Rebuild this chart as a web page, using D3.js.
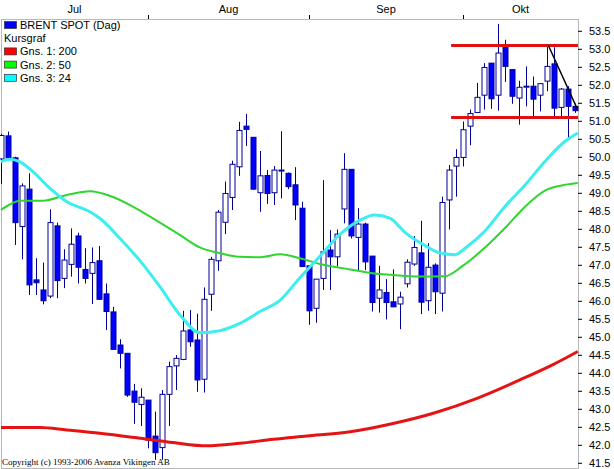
<!DOCTYPE html>
<html>
<head>
<meta charset="utf-8">
<script src="https://cdn.jsdelivr.net/npm/d3@7"></script>
<style>
  body { margin: 0; background: #fff; }
  text { font-family: "Liberation Sans", Arial, sans-serif; }
</style>
</head>
<body>
<svg id="chart" width="614" height="469"></svg>
<script>
// daily candles, Jul -> Okt
const opens  = [49.9,50.54,49.93,48.02,49.06,46.54,46.26,46.09,48.04,46.58,46.97,47.76,46.83,46.72,47.07,46.15,45.65,44.73,44.5,43.45,43.08,43.2,42.2,41.88,43.36,44.15,44.33,45.15,44.87,43.78,46.14,47.07,48.14,48.83,49.68,50.81,50.5,48.96,49.44,48.96,49.59,49.5,49.18,48.53,46.93,45.75,46.58,47.37,47.18,48.51,49.61,47.72,48.09,47.2,46.03,46.19,45.93,45.87,46.43,46.98,47.29,45.96,46.95,46.17,48.76,49.7,49.94,50.81,51.19,51.67,52.56,51.67,53.0,52.38,51.59,51.92,51.92,51.67,52.06,52.54,51.33,51.84,51.36];
const highs  = [50.6,50.66,49.96,49.22,49.5,47.14,47.02,48.5,48.13,47.39,47.97,47.85,47.42,47.44,47.48,46.44,45.79,44.89,44.5,43.65,43.53,43.2,42.88,43.48,44.27,44.45,45.68,45.7,45.6,46.33,47.18,48.48,49.27,49.85,50.93,51.15,50.5,50.12,49.59,49.7,50.67,49.52,49.67,48.71,46.93,46.56,49.31,47.92,47.94,50.06,49.61,48.53,48.13,47.2,46.93,46.56,46.83,46.21,47.11,47.76,48.18,47.56,47.0,48.85,49.73,50.17,50.94,51.27,52.01,52.56,52.56,53.65,53.21,52.38,52.07,52.47,52.19,52.01,53.06,53.0,51.87,51.92,51.44];
const lows   = [49.2,49.93,47.51,47.11,46.12,46.12,45.86,46.03,46.03,46.31,46.63,46.44,46.44,45.87,45.98,45.15,44.61,44.08,43.29,42.54,42.48,41.86,41.54,41.54,42.48,43.48,44.31,44.68,43.43,43.41,45.68,46.79,47.81,48.48,49.43,50.26,49.04,48.43,48.65,48.62,48.8,49.06,48.2,46.91,45.29,45.35,46.26,46.26,46.91,48.11,47.69,46.81,46.81,45.66,45.63,45.44,45.79,45.17,46.33,46.93,45.59,45.68,45.59,45.66,47.94,48.85,49.69,50.28,51.18,51.27,51.29,51.24,52.04,51.43,50.85,51.36,51.08,51.22,51.78,51.08,51.08,50.43,51.18];
const closes = [50.55,49.93,48.13,49.15,46.4,46.46,45.96,48.13,46.52,47.09,47.53,46.89,46.58,47.02,46.0,45.66,44.61,44.5,43.34,43.14,43.28,42.09,41.74,43.36,44.13,44.36,45.12,44.82,43.76,46.0,47.11,48.42,48.94,49.75,50.69,50.72,49.06,49.43,48.94,49.59,49.59,49.13,48.62,46.91,45.68,46.56,47.32,47.18,47.81,49.61,47.76,48.09,47.04,45.91,46.26,45.91,45.79,46.06,47.03,47.44,45.92,46.89,46.21,48.69,49.59,49.94,50.71,51.16,51.61,52.44,51.57,52.84,52.47,51.64,51.89,51.92,51.56,51.99,52.47,51.31,51.84,51.36,51.24];

// moving averages: [candle index, value]
const ma200 = [[0,42.44],[5.6,42.44],[9.4,42.37],[14.1,42.28],[19.9,42.14],[24.6,42.02],[29.4,41.93],[34.1,42.0],[38.9,42.11],[43.7,42.2],[49.9,42.32],[56,42.55],[62,42.85],[68,43.25],[74,43.75],[79,44.2],[82.4,44.55]];
const ma50 = [[0,48.48],[1.3,48.64],[2.7,48.74],[6,48.74],[9.4,48.9],[12.7,49.0],[15.6,48.87],[18.9,48.57],[22.7,48.13],[25.6,47.78],[28.4,47.44],[31.3,47.28],[34.1,47.18],[37,47.17],[39.9,47.25],[42.7,47.14],[45.6,46.98],[49.9,46.83],[54.1,46.7],[57,46.66],[59.9,46.63],[63.4,46.64],[65.9,46.92],[69.1,47.43],[72,47.98],[74.9,48.58],[77.7,49.02],[80.6,49.18],[82.4,49.23]];
const ma24 = [[0,49.82],[1.3,49.89],[2.7,49.82],[4.6,49.54],[7,49.08],[9.4,48.71],[12.7,48.43],[14.1,48.25],[17,47.69],[19.9,47.06],[22.7,46.35],[25.6,45.56],[28.4,45.07],[31.3,45.13],[34.1,45.33],[37,45.66],[39.9,45.98],[42.7,46.6],[45.6,47.2],[48.4,47.8],[51.3,48.2],[53.4,48.34],[55.6,48.25],[57.7,47.86],[60.6,47.49],[62.7,47.29],[64.9,47.24],[66.3,47.42],[69.1,47.89],[72,48.58],[74.9,49.18],[77.7,49.83],[80.6,50.39],[82.4,50.62]];

// drawn annotations
const levels = [53.05, 51.05];
const levelFrom = 64.3;
const trendLine = [[78.2, 53.05], [82.3, 51.3]];

const months = ["Jul", "Aug", "Sep", "Okt"];
const monthStarts = [21, 44, 66];
const yTicks = [41.5,42,42.5,43,43.5,44,44.5,45,45.5,46,46.5,47,47.5,48,48.5,49,49.5,50,50.5,51,51.5,52,52.5,53,53.5];

const legendItems = [
  { label: "BRENT SPOT (Dag)", color: "#0000ff" },
  { label: "Kursgraf", color: null },
  { label: "Gns. 1: 200", color: "#ff0000" },
  { label: "Gns. 2: 50", color: "#00ff00" },
  { label: "Gns. 3: 24", color: "#00ffff" }
];

const plotLeft = 1, plotRight = 578, plotTop = 19, plotBottom = 468;

const svg = d3.select("#chart");

const x = d3.scaleLinear().domain([0, opens.length - 1]).range([1, 575]);
const y = d3.scaleLinear().domain([51, 53]).range([119.3, 47.3]);

// frame
svg.append("rect")
  .attr("x", plotLeft + 0.5).attr("y", plotTop + 0.5)
  .attr("width", plotRight - plotLeft).attr("height", plotBottom - plotTop)
  .attr("fill", "#fff").attr("stroke", "#b8b8b8");

// right axis
const yAxis = svg.append("g")
  .attr("transform", `translate(${plotRight},0)`)
  .call(d3.axisRight(y).tickValues(yTicks).tickSize(4).tickPadding(7).tickFormat(d3.format(".1f")));
yAxis.select(".domain").remove();
yAxis.selectAll(".tick").attr("transform", d => `translate(0,${y(d) + 2})`);
yAxis.selectAll(".tick line").attr("stroke", "#000");
yAxis.selectAll(".tick text").attr("font-size", 11).attr("font-family", "Liberation Sans, Arial, sans-serif").attr("fill", "#000");

// top month axis
const xAxis = svg.append("g")
  .attr("transform", `translate(0,${plotTop})`)
  .call(d3.axisTop(x).tickValues(monthStarts).tickSize(4).tickFormat(""));
xAxis.select(".domain").remove();
xAxis.selectAll(".tick line").attr("stroke", "#000");

const bounds = [plotLeft].concat(monthStarts.map(x), [plotRight]);
svg.append("g").selectAll("text")
  .data(months)
  .join("text")
  .attr("x", (d, i) => (bounds[i] + bounds[i + 1]) / 2)
  .attr("y", 13)
  .attr("text-anchor", "middle")
  .attr("font-size", 11)
  .text(d => d);

// candles
const idx = d3.range(opens.length);
const candles = svg.append("g");
candles.selectAll("line")
  .data(idx)
  .join("line")
  .attr("x1", i => Math.round(x(i)) + 0.5)
  .attr("x2", i => Math.round(x(i)) + 0.5)
  .attr("y1", i => y(highs[i]))
  .attr("y2", i => y(lows[i]))
  .attr("stroke", "#000098");
candles.selectAll("rect")
  .data(idx)
  .join("rect")
  .attr("x", i => Math.round(x(i)) - 2)
  .attr("width", 5)
  .attr("y", i => y(Math.max(opens[i], closes[i])))
  .attr("height", i => Math.max(1, Math.abs(y(opens[i]) - y(closes[i]))))
  .attr("fill", i => closes[i] < opens[i] ? "#0000ff" : "#fff")
  .attr("stroke", "#000098");

// moving averages
const line = d3.line().x(d => x(d[0])).y(d => y(d[1])).curve(d3.curveMonotoneX);
[[ma200, "#e51414", 3], [ma50, "#2fd62f", 2], [ma24, "#3ceef0", 3]].forEach(([data, color, w]) => {
  svg.append("path")
    .datum(data)
    .attr("d", line)
    .attr("fill", "none")
    .attr("stroke", color)
    .attr("stroke-width", w);
});

// support / resistance and trend line
svg.append("g").selectAll("line")
  .data(levels)
  .join("line")
  .attr("x1", x(levelFrom)).attr("x2", plotRight)
  .attr("y1", d => y(d)).attr("y2", d => y(d))
  .attr("stroke", "#e01010").attr("stroke-width", 3);

svg.append("line")
  .attr("x1", x(trendLine[0][0])).attr("y1", y(trendLine[0][1]))
  .attr("x2", x(trendLine[1][0])).attr("y2", y(trendLine[1][1]))
  .attr("stroke", "#000").attr("stroke-width", 1.5);

// legend
const legend = svg.append("g");
legendItems.forEach((d, i) => {
  const by = 29 + i * 13.2;
  if (d.color) {
    legend.append("rect")
      .attr("x", 4.5).attr("y", by - 7.5)
      .attr("width", 12).attr("height", 7)
      .attr("fill", d.color)
      .attr("stroke", "#333").attr("stroke-width", 0.7);
  }
  legend.append("text")
    .attr("x", d.color ? 20 : 4)
    .attr("y", by)
    .attr("font-size", 11)
    .text(d.label);
});

svg.append("text")
  .attr("x", 2).attr("y", 465)
  .attr("font-size", 9)
  .style("font-family", "Liberation Serif, serif")
  .text("Copyright (c) 1993-2006 Avanza Vikingen AB");
</script>
</body>
</html>
